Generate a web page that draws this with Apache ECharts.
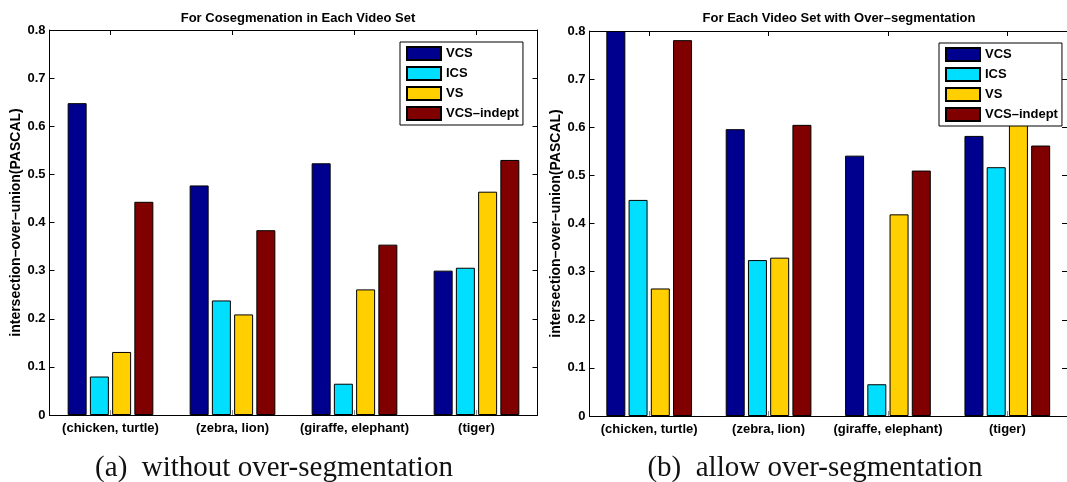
<!DOCTYPE html>
<html>
<head>
<meta charset="utf-8">
<script src="https://cdn.jsdelivr.net/npm/echarts@6/dist/echarts.min.js"></script>
<style>
  html, body { margin: 0; padding: 0; background: #fff; }
  #main { width: 1067px; height: 482px; }
</style>
</head>
<body>
<div id="main"></div>
<script>
// categories and names
const categories = ['(chicken, turtle)', '(zebra, lion)', '(giraffe, elephant)', '(tiger)']
const seriesNames = ['VCS', 'ICS', 'VS', 'VCS–indept']
const seriesColors = ['#00008F', '#00DFFF', '#FFCF00', '#800000']

// (a) without over-segmentation
const vcsA = [0.648, 0.477, 0.523, 0.300]
const icsA = [0.080, 0.238, 0.065, 0.306]
const vsA = [0.131, 0.209, 0.261, 0.464]
const indeptA = [0.443, 0.384, 0.354, 0.530]

// (b) allow over-segmentation
const vcsB = [0.800, 0.596, 0.541, 0.582]
const icsB = [0.449, 0.324, 0.066, 0.517]
const vsB = [0.265, 0.329, 0.419, 0.660]
const indeptB = [0.781, 0.605, 0.510, 0.562]

const yMin = 0
const yMax = 0.8
const yStep = 0.1

const titles = ['For Cosegmenation in Each Video Set', 'For Each Video Set with Over–segmentation']
const captions = ['(a)  without over-segmentation', '(b)  allow over-segmentation']
const yName = 'intersection–over–union(PASCAL)'

const FONT = '"Liberation Sans", Arial, Helvetica, sans-serif'
const SERIF = '29px "Liberation Serif", "Times New Roman", serif'

const chart = echarts.init(document.getElementById('main'))

// x axes: bottom with labels, top only ticks (box look)
const makeX = (gridIndex, top) => ({
  type: 'category',
  gridIndex: gridIndex,
  position: top ? 'top' : 'bottom',
  data: categories,
  boundaryGap: true,
  axisLine: { show: true, onZero: false, lineStyle: { color: '#000', width: 1 } },
  axisTick: { show: true, inside: true, alignWithLabel: true, interval: 0, length: 5, lineStyle: { color: top ? '#000' : '#888' } },
  axisLabel: { show: !top, interval: 0, color: '#000', fontFamily: FONT, fontWeight: 'bold', fontSize: 13, margin: 7 },
  splitLine: { show: false }
})

const makeY = (gridIndex, right) => ({
  type: 'value',
  gridIndex: gridIndex,
  position: right ? 'right' : 'left',
  min: yMin,
  max: yMax,
  interval: yStep,
  name: right ? '' : yName,
  nameLocation: 'middle',
  nameGap: 26,
  nameTextStyle: { color: '#000', fontFamily: FONT, fontWeight: 'bold', fontSize: 14 },
  axisLine: { show: true, lineStyle: { color: '#000', width: 1 } },
  axisTick: { show: true, inside: true, length: 5, lineStyle: { color: '#000' } },
  axisLabel: { show: !right, color: '#000', fontFamily: FONT, fontWeight: 'bold', fontSize: 13, margin: 4 },
  splitLine: { show: false }
})

const makeBars = (values, gridIndex) => values.map((data, i) => ({
  name: seriesNames[i],
  type: 'bar',
  xAxisIndex: gridIndex * 2,
  yAxisIndex: gridIndex * 2,
  data: data,
  barWidth: 19,
  barGap: '17%',
  itemStyle: { color: seriesColors[i], borderColor: '#000', borderWidth: 1 },
  emphasis: { disabled: true },
  animation: false
}))

const makeLegend = (left, top) => ({
  orient: 'vertical',
  left: left,
  top: top,
  icon: 'rect',
  itemWidth: 34,
  itemHeight: 13,
  itemGap: 5,
  padding: [4, 4, 4, 6],
  borderColor: '#000',
  borderWidth: 1,
  backgroundColor: '#fff',
  data: seriesNames,
  textStyle: { color: '#000', fontFamily: FONT, fontWeight: 'bold', fontSize: 13 },
  selectedMode: false
})

const options = {
  backgroundColor: '#fff',
  animation: false,
  title: [
    { text: titles[0], left: 293, top: 7, textAlign: 'center',
      textStyle: { color: '#000', fontFamily: FONT, fontWeight: 'bold', fontSize: 13 } },
    { text: titles[1], left: 834, top: 7, textAlign: 'center',
      textStyle: { color: '#000', fontFamily: FONT, fontWeight: 'bold', fontSize: 13 } }
  ],
  grid: [
    { left: 49.5, right: 529.5, top: 30, bottom: 67 },
    { left: 589.5, right: -10.5, top: 31, bottom: 66 }
  ],
  xAxis: [makeX(0, false), makeX(0, true), makeX(1, false), makeX(1, true)],
  yAxis: [makeY(0, false), makeY(0, true), makeY(1, false), makeY(1, true)],
  legend: [makeLegend(400, 42), makeLegend(939, 43)],
  series: [
    ...makeBars([vcsA, icsA, vsA, indeptA], 0),
    ...makeBars([vcsB, icsB, vsB, indeptB], 1)
  ],
  graphic: [
    { type: 'text', x: 274, y: 468,
      style: { text: captions[0], fill: '#111', font: SERIF, align: 'center', verticalAlign: 'middle' } },
    { type: 'text', x: 815, y: 468,
      style: { text: captions[1], fill: '#111', font: SERIF, align: 'center', verticalAlign: 'middle' } }
  ]
}

chart.setOption(options)
</script>
</body>
</html>
